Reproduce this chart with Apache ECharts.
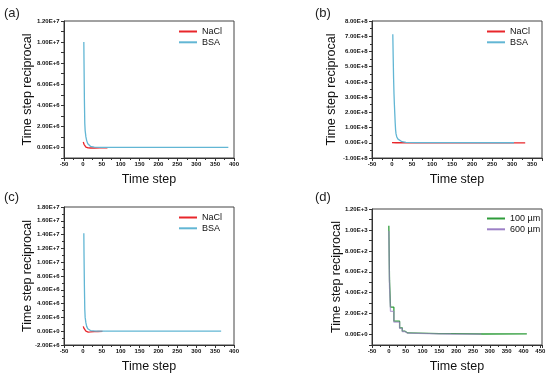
<!DOCTYPE html>
<html><head><meta charset="utf-8">
<script src="https://cdn.jsdelivr.net/npm/echarts@6/dist/echarts.min.js"></script>
<style>html,body{margin:0;padding:0;background:#fff}#c{width:550px;height:377px}</style>
</head><body><div id="c"></div>
<script>
// ---------- data ----------
const panelLabels = ['(a)', '(b)', '(c)', '(d)'];
const xName = 'Time step';
const yName = 'Time step reciprocal';
const seriesNamesABC = ['NaCl', 'BSA'];
const seriesNamesD = ['100 µm', '600 µm'];

// (a)
const aNaCl = [[1,5.2e5],[2,4.0e5],[3,3.0e5],[4,2.2e5],[5,1.5e5],[6,1.0e5],[8,4e4],[10,0],[14,-4e4],[20,-5e4],[30,-5e4],[45,-4e4],[65,-4e4]];
const aBSA  = [[2.5,1.0e7],[3,8e6],[4,4.5e6],[5,2.3e6],[6,1.6e6],[8,1.0e6],[10,6.5e5],[13,3.5e5],[16,1.9e5],[20,1.1e5],[25,6e4],[30,3e4],[50,1e4],[100,4e3],[200,2e3],[385,1e3]];
// (b)
const bNaCl = [[0,5e5],[5,3e5],[10,1e5],[20,5e4],[50,2e4],[150,1e4],[250,5e3],[333,3e3]];
const bBSA  = [[2,7.13e8],[3,5.6e8],[4,4.2e8],[5,3.2e8],[6,2.5e8],[7,1.9e8],[8,1.3e8],[9,8.5e7],[10,6e7],[12,3.8e7],[15,2.4e7],[20,1.3e7],[25,7e6],[35,3e6],[60,1e6],[150,5e5],[305,3e5]];
// (c)
const cNaCl = [[1,7e5],[2,5.5e5],[3,4e5],[4,2.8e5],[5,1.8e5],[6,1e5],[8,0],[10,-8e4],[14,-1.2e5],[20,-1e5],[30,-6e4],[40,-4e4],[52,-3e4]];
const cBSA  = [[2.5,1.42e7],[3,1.1e7],[4,6.5e6],[5,3.2e6],[6,2.0e6],[8,1.2e6],[10,7e5],[13,3.5e5],[16,1.6e5],[20,9e4],[25,5e4],[35,2e4],[60,8e3],[150,4e3],[366,2e3]];
// (d) staircase (value held until next x)
const d100 = [[0,1040],[2,520],[5,262],[15,128],[32,64],[40,32],[48,15],[56,8],[150,9],[185,5],[280,6],[410,6]];
const d600 = [[0,990],[2,460],[5,222],[15,118],[32,58],[40,29],[48,13],[56,6],[150,5],[185,4],[275,4]];

// axis ranges [min, max, interval]
const xRangeA = [-50, 400, 50];
const xRangeB = [-50, 375, 50];
const xRangeC = [-50, 400, 50];
const xRangeD = [-50, 455, 50];
const yRangeA = [-1e6, 1.2e7, 1e6];
const yRangeB = [-1e8, 8e8, 1e8];
const yRangeC = [-2e6, 1.8e7, 2e6];
const yRangeD = [-100, 1200, 100];

// ---------- styling ----------
const FONT = '"Liberation Sans", Arial, sans-serif';
const RED = '#e8262b', BLUE = '#62b6d4', GREEN = '#2e9c3a', PURPLE = '#9c80c6';

function sci(v) {
  if (Math.abs(v) < 1e-12) return '0.00E+0';
  const s = v < 0 ? '-' : '';
  const a = Math.abs(v);
  const e = Math.floor(Math.log10(a) + 1e-9);
  const m = a / Math.pow(10, e);
  return s + m.toFixed(2) + 'E+' + e;
}

const grids = [
  {left: 64, top: 21, width: 170, height: 137},
  {left: 372, top: 21, width: 170, height: 137},
  {left: 64, top: 207, width: 170, height: 138},
  {left: 372, top: 209, width: 170, height: 136}
].map(g => Object.assign(g, {show: true, borderColor: '#444', borderWidth: 1, backgroundColor: 'transparent'}));

const axisCommon = {
  axisLine: {show: true, onZero: false, lineStyle: {color: '#333', width: 1}},
  axisTick: {show: true, length: 3, lineStyle: {color: '#333'}},
  splitLine: {show: false},
  nameMoveOverlap: false,
  nameTextStyle: {fontFamily: FONT, fontSize: 12.5, color: '#111'}
};

function xAxis(idx, r, gap) {
  return Object.assign({}, axisCommon, {
    type: 'value', gridIndex: idx, min: r[0], max: r[1], interval: r[2],
    name: xName, nameLocation: 'middle', nameGap: gap,
    minorTick: {show: true, splitNumber: 2, length: 2, lineStyle: {color: '#333'}},
    axisLabel: {fontFamily: FONT, fontSize: 6, fontWeight: 'bold', color: '#111', margin: 3.5,
      formatter: v => (Math.abs(v % r[2]) < 1e-9 ? String(v) : '')}
  });
}
function yAxis(idx, r, gap, labelEvery, minor) {
  return Object.assign({}, axisCommon, {
    type: 'value', gridIndex: idx, min: r[0], max: r[1], interval: r[2],
    name: yName, nameLocation: 'middle', nameGap: gap,
    minorTick: {show: minor, splitNumber: 2, length: 2, lineStyle: {color: '#333'}},
    axisLabel: {fontFamily: FONT, fontSize: 6, fontWeight: 'bold', color: '#111', margin: 4.5,
      formatter: v => (Math.round(v / r[2]) % labelEvery === 0 ? sci(v) : '')}
  });
}

function line(name, data, color, xi, step, extra) {
  return Object.assign({
    name, type: 'line', data, xAxisIndex: xi, yAxisIndex: xi,
    symbol: 'none', showSymbol: false, animation: false,
    step: step || false,
    lineStyle: {color, width: 1.3}, itemStyle: {color}
  }, extra || {});
}

function legend(left, top, names) {
  return {
    orient: 'vertical', left, top, data: names, icon: 'rect',
    itemWidth: 18, itemHeight: 2, itemGap: 1.8, selectedMode: false,
    textStyle: {fontFamily: FONT, fontSize: 9, color: '#111', padding: 0}
  };
}

const option = {
  animation: false,
  backgroundColor: '#fff',
  grid: grids,
  xAxis: [xAxis(0, xRangeA, 15.5), xAxis(1, xRangeB, 15.5), xAxis(2, xRangeC, 15.5), xAxis(3, xRangeD, 15.5)],
  yAxis: [yAxis(0, yRangeA, 30, 2, false), yAxis(1, yRangeB, 34, 1, true), yAxis(2, yRangeC, 30, 1, true), yAxis(3, yRangeD, 29, 2, false)],
  legend: [legend(174, 22, seriesNamesABC), legend(482, 22, seriesNamesABC), legend(174, 208, seriesNamesABC), legend(482, 209, seriesNamesD)],
  series: [
    line('NaCl', aNaCl, RED, 0), line('BSA', aBSA, BLUE, 0),
    line('NaCl', bNaCl, RED, 1), line('BSA', bBSA, BLUE, 1),
    line('NaCl', cNaCl, RED, 2), line('BSA', cBSA, BLUE, 2),
    line('100 µm', d100, GREEN, 3, 'end'),
    line('600 µm', d600, PURPLE, 3, 'end', {lineStyle: {color: PURPLE, width: 1.3, opacity: 0.7}})
  ],
  graphic: [
    {type: 'text', left: 4, top: 7, style: {text: panelLabels[0], font: '13px ' + FONT, fill: '#222'}},
    {type: 'text', left: 315, top: 7, style: {text: panelLabels[1], font: '13px ' + FONT, fill: '#222'}},
    {type: 'text', left: 4, top: 191, style: {text: panelLabels[2], font: '13px ' + FONT, fill: '#222'}},
    {type: 'text', left: 315, top: 191, style: {text: panelLabels[3], font: '13px ' + FONT, fill: '#222'}}
  ]
};

const chart = echarts.init(document.getElementById('c'), null, {renderer: 'canvas'});
chart.setOption(option);
</script>
</body></html>
